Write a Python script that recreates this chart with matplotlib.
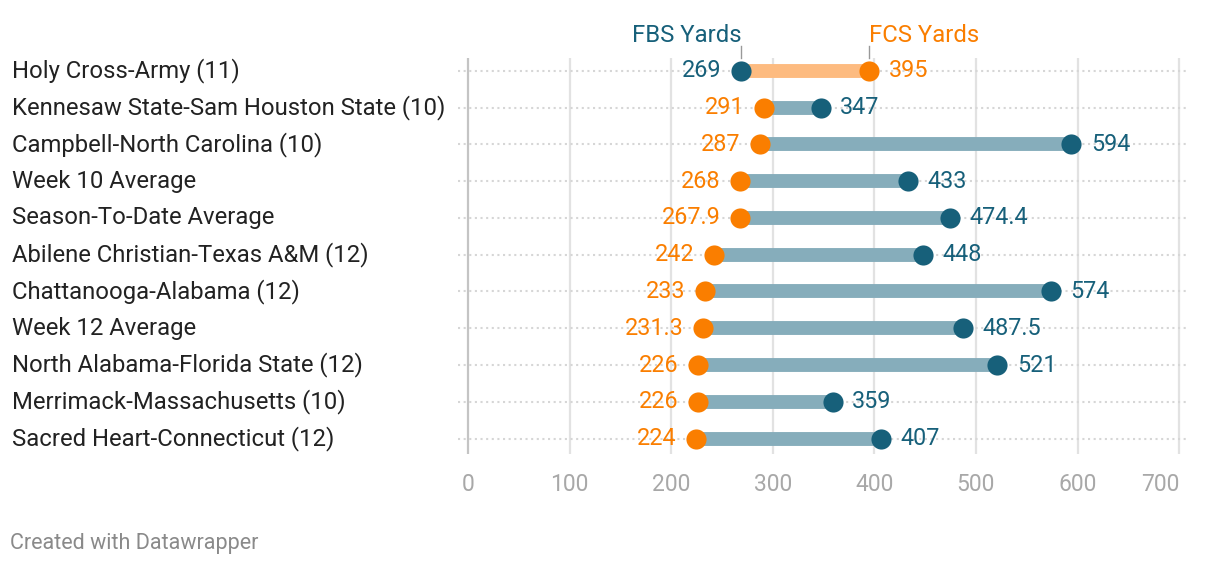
import matplotlib
matplotlib.use("Agg")
import matplotlib.pyplot as plt
import numpy as np

plt.rcParams["font.family"] = ["Roboto", "DejaVu Sans"]

# data, top row first
games = ["Holy Cross-Army (11)", "Kennesaw State-Sam Houston State (10)",
         "Campbell-North Carolina (10)", "Week 10 Average", "Season-To-Date Average",
         "Abilene Christian-Texas A&M (12)", "Chattanooga-Alabama (12)", "Week 12 Average",
         "North Alabama-Florida State (12)", "Merrimack-Massachusetts (10)",
         "Sacred Heart-Connecticut (12)"]
fbs = [269, 347, 594, 433, 474.4, 448, 574, 487.5, 521, 359, 407]
fcs = [395, 291, 287, 268, 267.9, 242, 233, 231.3, 226, 226, 224]
xticks = [0, 100, 200, 300, 400, 500, 600, 700]

C = {"fbs": "#17607a", "fcs": "#fa7e00", "fbs_bar": "#86adbb", "fcs_bar": "#fdbb80",
     "grid": "#e2e2e2", "zero": "#c4c4c4", "tick": "#a8a8a8", "text": "#222222"}
FS = 17.2

fig = plt.figure(figsize=(12.2, 5.68), dpi=100)
ax = fig.add_axes([458/1220, 1-454/568, 730/1220, 396/568])
ax.set_xlim(-9.8, 708.7)
ax.set_ylim(10.42, -0.35)

for v in xticks:
    ax.axvline(v, color=C["zero"] if v == 0 else C["grid"], lw=1.6, zorder=0)

y = np.arange(len(games))
for i in y:
    ax.axhline(i, color="#d6d6d6", lw=1.5, ls=(0, (1, 1.7)), zorder=0.5)
    a, b = fbs[i], fcs[i]
    barc = C["fcs_bar"] if b > a else C["fbs_bar"]
    ax.plot([a, b], [i, i], color=barc, lw=10, solid_capstyle="butt", zorder=1)
    ax.plot(a, i, "o", color=C["fbs"], ms=14.5, mec="none", zorder=3)
    ax.plot(b, i, "o", color=C["fcs"], ms=14.5, mec="none", zorder=3)
    lo, hi = (a, b) if a < b else (b, a)
    loc = C["fbs"] if a < b else C["fcs"]
    hic = C["fcs"] if a < b else C["fbs"]
    ax.annotate(f"{lo:g}", (lo, i), xytext=(-14, 0), textcoords="offset points",
                ha="right", va="center", fontsize=16.8, color=loc)
    ax.annotate(f"{hi:g}", (hi, i), xytext=(14, 0), textcoords="offset points",
                ha="left", va="center", fontsize=16.8, color=hic)
    fig.text(12/1220, ax.transData.transform((0, i))[1]/568, games[i],
             ha="left", va="center", fontsize=FS, color=C["text"])

# series headers over the first row: FBS ends at its tick, FCS starts at its tick
ax.text(fbs[0], -0.79, "FBS Yards", ha="right", va="baseline", fontsize=FS,
        color=C["fbs"], clip_on=False)
ax.text(fcs[0], -0.79, "FCS Yards", ha="left", va="baseline", fontsize=FS,
        color=C["fcs"], clip_on=False)
for v in (fbs[0], fcs[0]):
    ax.plot([v, v], [-0.35, -0.68], color="#999999", lw=1, clip_on=False)

ax.set_xticks(xticks)
ax.set_xticklabels([str(t) for t in xticks], fontsize=16.5, color=C["tick"])
ax.get_xticklabels()[-1].set_horizontalalignment("right")
ax.tick_params(axis="x", length=0, pad=14)
ax.set_yticks([])
for s in ax.spines.values():
    s.set_visible(False)

fig.text(10/1220, 1-543/568, "Created with Datawrapper", fontsize=15.5, color="#8a8a8a",
         ha="left", va="center")
fig.savefig("out.png", dpi=100)
